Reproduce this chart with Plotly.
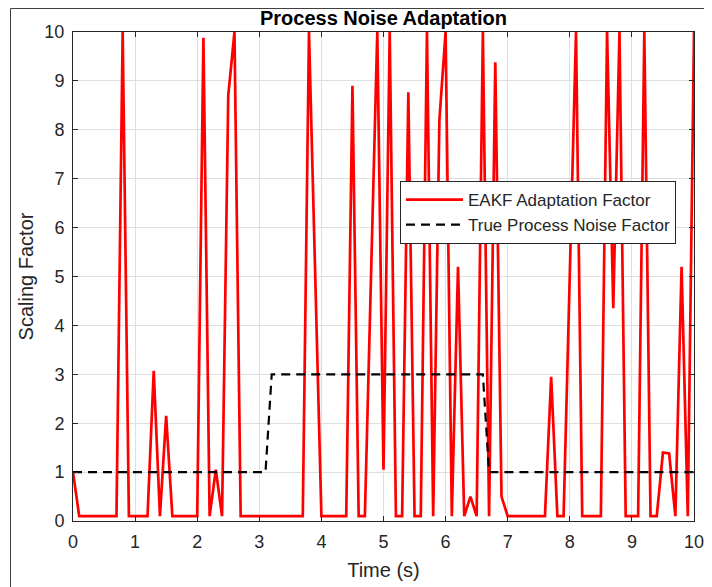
import plotly.graph_objects as go

# Time samples (s)
time_s = [
    0.0, 0.1, 0.2, 0.3, 0.4, 0.5, 0.6, 0.7, 0.8, 0.9,
    1.0, 1.1, 1.2, 1.3, 1.4, 1.5, 1.6, 1.7, 1.8, 1.9,
    2.0, 2.1, 2.2, 2.3, 2.4, 2.5, 2.6, 2.7, 2.8, 2.9,
    3.0, 3.1, 3.2, 3.3, 3.4, 3.5, 3.6, 3.7, 3.8, 3.9,
    4.0, 4.1, 4.2, 4.3, 4.4, 4.5, 4.6, 4.7, 4.8, 4.9,
    5.0, 5.1, 5.2, 5.3, 5.4, 5.5, 5.6, 5.7, 5.8, 5.9,
    6.0, 6.1, 6.2, 6.3, 6.4, 6.5, 6.6, 6.7, 6.8, 6.9,
    7.0, 7.1, 7.2, 7.3, 7.4, 7.5, 7.6, 7.7, 7.8, 7.9,
    8.0, 8.1, 8.2, 8.3, 8.4, 8.5, 8.6, 8.7, 8.8, 8.9,
    9.0, 9.1, 9.2, 9.3, 9.4, 9.5, 9.6, 9.7, 9.8, 9.9,
    10.0,
]

# EAKF adaptation factor
eakf_factor = [
    1.0, 0.1, 0.1, 0.1, 0.1, 0.1, 0.1, 0.1, 10, 0.1,
    0.1, 0.1, 0.1, 3.07, 0.1, 2.15, 0.1, 0.1, 0.1, 0.1,
    0.1, 9.88, 0.1, 1.05, 0.1, 8.7, 10, 0.1, 0.1, 0.1,
    0.1, 0.1, 0.1, 0.1, 0.1, 0.1, 0.1, 0.1, 10, 5.0,
    0.1, 0.1, 0.1, 0.1, 0.1, 8.9, 0.1, 0.1, 5.0, 10,
    1.05, 10, 0.1, 0.1, 8.77, 0.1, 0.1, 10, 0.1, 8.2,
    10, 0.1, 5.2, 0.1, 0.5, 0.1, 10, 0.1, 9.38, 0.5,
    0.1, 0.1, 0.1, 0.1, 0.1, 0.1, 0.1, 2.95, 0.1, 0.1,
    5.0, 10, 0.1, 0.1, 0.1, 0.1, 10, 4.35, 10, 0.1,
    0.1, 0.1, 10, 0.1, 0.1, 1.4, 1.38, 0.1, 5.2, 0.1,
    10,
]

# True process noise factor
true_factor = [
    1, 1, 1, 1, 1, 1, 1, 1, 1, 1,
    1, 1, 1, 1, 1, 1, 1, 1, 1, 1,
    1, 1, 1, 1, 1, 1, 1, 1, 1, 1,
    1, 1, 3, 3, 3, 3, 3, 3, 3, 3,
    3, 3, 3, 3, 3, 3, 3, 3, 3, 3,
    3, 3, 3, 3, 3, 3, 3, 3, 3, 3,
    3, 3, 3, 3, 3, 3, 3, 1, 1, 1,
    1, 1, 1, 1, 1, 1, 1, 1, 1, 1,
    1, 1, 1, 1, 1, 1, 1, 1, 1, 1,
    1, 1, 1, 1, 1, 1, 1, 1, 1, 1,
    1,
]

x_ticks = [0, 1, 2, 3, 4, 5, 6, 7, 8, 9, 10]
y_ticks = [0, 1, 2, 3, 4, 5, 6, 7, 8, 9, 10]

FONT = "Liberation Sans, Arial, Helvetica, sans-serif"
AX = "#262626"

# The page body adds an 8px margin, so the figure is 704x579 drawn at (8, 8).
W, H = 704, 579
L, R, T, B = 65, 18, 24, 66
PW, PH = W - L - R, H - T - B

fig = go.Figure()
fig.add_trace(go.Scatter(
    x=time_s, y=eakf_factor, mode="lines", name="EAKF Adaptation Factor",
    line=dict(color="#ff0000", width=2.7),
))
fig.add_trace(go.Scatter(
    x=time_s, y=true_factor, mode="lines", name="True Process Noise Factor",
    line=dict(color="#000000", width=2.2, dash="9px,6px"),
))

axis_common = dict(
    showline=True, linecolor=AX, linewidth=1, mirror="allticks",
    ticks="inside", ticklen=5, tickcolor=AX, tickwidth=1,
    showgrid=True, gridcolor="#dfdfdf", gridwidth=1, zeroline=False,
    tickfont=dict(family=FONT, size=18, color=AX),
    automargin=False,
)

fig.update_xaxes(
    range=[0, 10], tickvals=x_ticks, ticktext=[str(v) for v in x_ticks],
    title=dict(text="Time (s)", font=dict(family=FONT, size=20, color=AX), standoff=12),
    ticklabelstandoff=4,
    **axis_common,
)
fig.update_yaxes(
    range=[0, 10], tickvals=y_ticks, ticktext=[str(v) for v in y_ticks],
    title=dict(text="Scaling Factor", font=dict(family=FONT, size=20, color=AX), standoff=5),
    ticklabelstandoff=4,
    **axis_common,
)

fig.update_layout(
    width=W, height=H,
    margin=dict(l=L, r=R, t=T, b=B, autoexpand=False),
    paper_bgcolor="white", plot_bgcolor="white",
    title=dict(text="<b>Process Noise Adaptation</b>", x=(L + PW / 2) / W, xanchor="center",
               y=1 - 3 / H, yanchor="top", pad=dict(t=0, b=0),
               font=dict(family=FONT, size=20, color="#000000")),
    showlegend=True,
    legend=dict(
        x=(392 - L) / PW, y=(513 - 173) / PH, xanchor="left", yanchor="top",
        bgcolor="white", bordercolor=AX, borderwidth=1,
        font=dict(family=FONT, size=17, color=AX),
        tracegroupgap=0, itemwidth=57,
    ),
    shapes=[
        dict(type="line", xref="paper", yref="paper",
             x0=(2.5 - L) / PW, x1=(2.5 - L) / PW, y0=(513 - 0.5) / PH, y1=(513 - 600) / PH,
             line=dict(color="#404040", width=1)),
        dict(type="line", xref="paper", yref="paper",
             x0=(2.5 - L) / PW, x1=(720 - L) / PW, y0=(513 - 0.5) / PH, y1=(513 - 0.5) / PH,
             line=dict(color="#404040", width=1)),
    ],
)

fig.write_html("out.html")
